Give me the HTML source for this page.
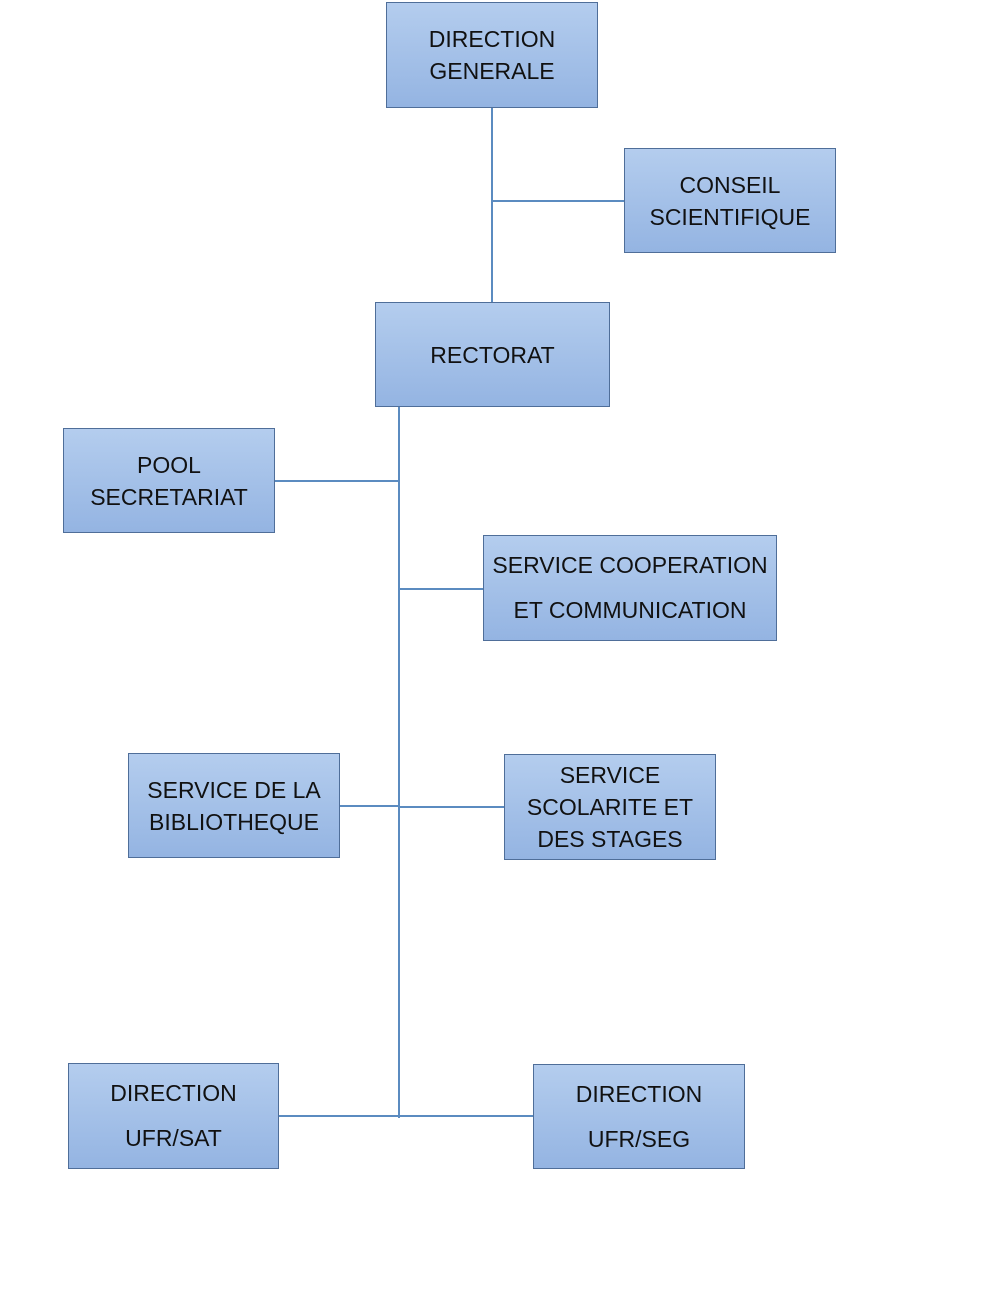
<!DOCTYPE html>
<html><head><meta charset="utf-8"><style>
body{margin:0;width:986px;height:1308px;background:#fff;position:relative;overflow:hidden;font-family:"Liberation Sans",sans-serif}
.b{position:absolute;box-sizing:border-box;border:1px solid #4f6e99;background:linear-gradient(#b4cdee,#94b4e2);display:flex;align-items:center;justify-content:center;text-align:center;font-size:23px;color:#111;line-height:32px}
.l{position:absolute;background:#5b8bc0}
</style></head><body>
<div class="l" style="left:491px;top:108px;width:2px;height:194px"></div>
<div class="l" style="left:492px;top:200px;width:132px;height:2px"></div>
<div class="l" style="left:398px;top:407px;width:2px;height:711px"></div>
<div class="l" style="left:275px;top:480px;width:124px;height:2px"></div>
<div class="l" style="left:399px;top:588px;width:84px;height:2px"></div>
<div class="l" style="left:340px;top:805px;width:59px;height:2px"></div>
<div class="l" style="left:399px;top:806px;width:105px;height:2px"></div>
<div class="l" style="left:279px;top:1115px;width:254px;height:2px"></div>
<div class="b" style="left:386px;top:2px;width:212px;height:106px">DIRECTION<br>GENERALE</div>
<div class="b" style="left:624px;top:148px;width:212px;height:105px">CONSEIL<br>SCIENTIFIQUE</div>
<div class="b" style="left:375px;top:302px;width:235px;height:105px">RECTORAT</div>
<div class="b" style="left:63px;top:428px;width:212px;height:105px">POOL<br>SECRETARIAT</div>
<div class="b" style="left:483px;top:535px;width:294px;height:106px;line-height:45px">SERVICE COOPERATION<br>ET COMMUNICATION</div>
<div class="b" style="left:128px;top:753px;width:212px;height:105px">SERVICE DE LA<br>BIBLIOTHEQUE</div>
<div class="b" style="left:504px;top:754px;width:212px;height:106px">SERVICE<br>SCOLARITE ET<br>DES STAGES</div>
<div class="b" style="left:68px;top:1063px;width:211px;height:106px;line-height:45px">DIRECTION<br>UFR/SAT</div>
<div class="b" style="left:533px;top:1064px;width:212px;height:105px;line-height:45px">DIRECTION<br>UFR/SEG</div>
</body></html>
